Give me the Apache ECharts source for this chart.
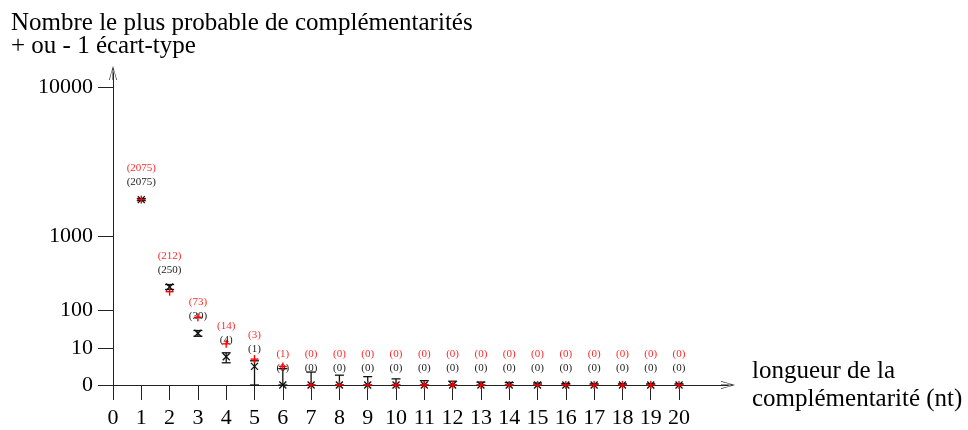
<!DOCTYPE html>
<html>
<head>
<meta charset="utf-8">
<script src="https://cdn.jsdelivr.net/npm/echarts@6/dist/echarts.min.js"></script>
<style>
  html, body { margin: 0; padding: 0; background: #fff; }
  #chart { width: 968px; height: 430px; }
</style>
</head>
<body>
<div id="chart"></div>
<script>
// longueur de la complémentarité (nt)
const lengths = [1, 2, 3, 4, 5, 6, 7, 8, 9, 10, 11, 12, 13, 14, 15, 16, 17, 18, 19, 20]
// nombre observé (noir) et son écart-type
const observed = [2075, 250, 30, 4, 1, 0, 0, 0, 0, 0, 0, 0, 0, 0, 0, 0, 0, 0, 0, 0]
const observedSd = [40, 21, 5.5, 2.2, 1.4, 0.65, 0.3, 0.12, 0.07, 0.025, 0.008, 0.005, 0.002, 0.0012, 0.0006, 0.0002, 0.0001, 0.0001, 0.0001, 0.0001]
// nombre attendu (rouge)
const predicted = [2075, 212, 73, 14, 3, 1, 0, 0, 0, 0, 0, 0, 0, 0, 0, 0, 0, 0, 0, 0]
// graduations de l'axe vertical
const yTickValues = [0, 10, 100, 1000, 10000]
const xTickValues = [0, 1, 2, 3, 4, 5, 6, 7, 8, 9, 10, 11, 12, 13, 14, 15, 16, 17, 18, 19, 20]

// échelle puissance : y = v^log10(2)
const P = Math.log10(2)
const tf = v => Math.pow(Math.max(v, 0), P)
const untf = t => Math.round(Math.pow(t, 1 / P))

const serif = 'Liberation Serif'
const arrow = 'path://M0,0 L4,14 L3.3,14 L0.5,3 L0.5,14 L-0.5,14 L-0.5,3 L-3.3,14 L-4,14 Z'

const obsData = lengths.map((x, i) => {
  const v = observed[i]
  const sd = observedSd[i]
  return [x, tf(v), tf(v - sd), tf(v + sd), v]
})
const predData = lengths.map((x, i) => [x, tf(predicted[i]), tf(observed[i]), predicted[i]])

const chart = echarts.init(document.getElementById('chart'))
const option = {
  animation: false,
  title: {
    text: 'Nombre le plus probable de complémentarités\n+ ou - 1 écart-type',
    left: 11,
    top: 12,
    padding: 0,
    textStyle: {
      fontFamily: serif,
      fontSize: 25,
      lineHeight: 23,
      fontWeight: 'normal',
      color: '#000'
    }
  },
  grid: {
    left: 113,
    right: 240,
    top: 73,
    bottom: 45
  },
  xAxis: {
    type: 'value',
    min: 0,
    max: 21.73,
    name: 'longueur de la\ncomplémentarité (nt)',
    nameLocation: 'end',
    nameGap: 24,
    nameTextStyle: {
      fontFamily: serif,
      fontSize: 25,
      lineHeight: 28,
      color: '#000',
      align: 'left',
      verticalAlign: 'middle',
      padding: [0, 0, 18, 0]
    },
    splitLine: { show: false },
    axisLine: {
      onZero: false,
      symbol: ['none', arrow],
      symbolSize: [8, 14],
      lineStyle: { color: '#222', width: 1 }
    },
    axisTick: {
      customValues: xTickValues,
      length: 15,
      lineStyle: { color: '#222' }
    },
    axisLabel: {
      customValues: xTickValues,
      margin: 22,
      fontFamily: serif,
      fontSize: 22,
      color: '#000'
    }
  },
  yAxis: {
    type: 'value',
    min: 0,
    max: 16.77,
    splitLine: { show: false },
    axisLine: {
      show: true,
      onZero: false,
      symbol: ['none', arrow],
      symbolSize: [8, 14],
      lineStyle: { color: '#222', width: 1 }
    },
    axisTick: {
      show: true,
      customValues: yTickValues.map(tf),
      length: 15,
      lineStyle: { color: '#222' }
    },
    axisLabel: {
      customValues: yTickValues.map(tf),
      margin: 20,
      fontFamily: serif,
      fontSize: 22,
      color: '#000',
      formatter: t => String(untf(t))
    }
  },
  series: [
    {
      // valeurs observées, barres d'erreur et étiquettes noires
      type: 'custom',
      data: obsData,
      renderItem (params, api) {
        const x = api.value(0)
        const c = api.coord([x, api.value(1)])
        const lo = api.coord([x, api.value(2)])
        const hi = api.coord([x, api.value(3)])
        const st = { stroke: '#111', lineWidth: 1.3 }
        const cap = 4.5
        const m = 3.5
        return {
          type: 'group',
          children: [
            { type: 'line', shape: { x1: c[0], y1: lo[1], x2: c[0], y2: hi[1] }, style: st },
            { type: 'line', shape: { x1: c[0] - cap, y1: lo[1], x2: c[0] + cap, y2: lo[1] }, style: st },
            { type: 'line', shape: { x1: c[0] - cap, y1: hi[1], x2: c[0] + cap, y2: hi[1] }, style: st },
            { type: 'line', shape: { x1: c[0] - m, y1: c[1] - m, x2: c[0] + m, y2: c[1] + m }, style: st },
            { type: 'line', shape: { x1: c[0] - m, y1: c[1] + m, x2: c[0] + m, y2: c[1] - m }, style: st },
            {
              type: 'text',
              x: c[0],
              y: c[1] - 17,
              style: {
                text: '(' + api.value(4) + ')',
                fill: '#222',
                font: '11px "Liberation Serif"',
                align: 'center',
                verticalAlign: 'middle'
              }
            }
          ]
        }
      }
    },
    {
      // valeurs attendues, croix et étiquettes rouges
      type: 'custom',
      data: predData,
      renderItem (params, api) {
        const x = api.value(0)
        const c = api.coord([x, api.value(1)])
        const ref = api.coord([x, api.value(2)])
        const st = { stroke: '#f00', lineWidth: 1.4 }
        const m = 4
        return {
          type: 'group',
          children: [
            { type: 'line', shape: { x1: c[0] - m, y1: c[1], x2: c[0] + m, y2: c[1] }, style: st },
            { type: 'line', shape: { x1: c[0], y1: c[1] - m, x2: c[0], y2: c[1] + m }, style: st },
            {
              type: 'text',
              x: ref[0],
              y: ref[1] - 31,
              style: {
                text: '(' + api.value(3) + ')',
                fill: '#ff2a2a',
                font: '11px "Liberation Serif"',
                align: 'center',
                verticalAlign: 'middle'
              }
            }
          ]
        }
      }
    }
  ]
}
chart.setOption(option)
</script>
</body>
</html>
